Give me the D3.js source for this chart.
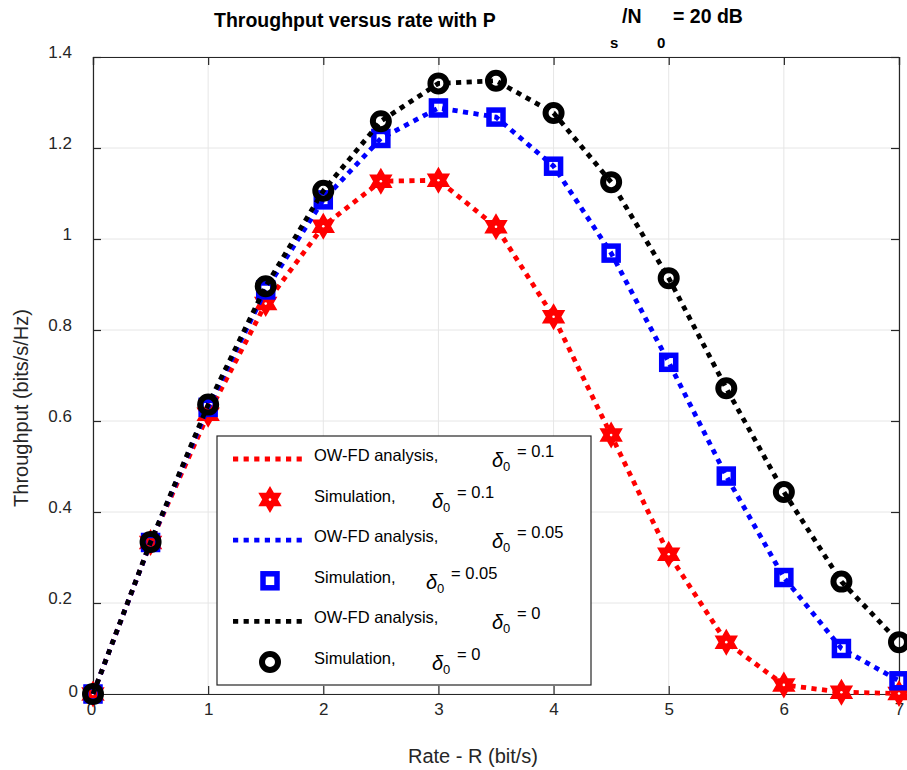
<!DOCTYPE html>
<html><head><meta charset="utf-8">
<script src="https://cdn.jsdelivr.net/npm/d3@7"></script>
<style>body{margin:0;background:#fff}svg{display:block}text{font-family:"Liberation Sans",Arial,sans-serif}</style>
</head><body><svg id="c" width="907" height="770"></svg>
<script>
// ---- data ----
const rate = [0,0.5,1,1.5,2,2.5,3,3.5,4,4.5,5,5.5,6,6.5,7];
const thrDelta01  = [0,0.333,0.615,0.858,1.028,1.127,1.129,1.027,0.829,0.569,0.307,0.114,0.020,0.004,0.001];
const thrDelta005 = [0,0.333,0.630,0.888,1.086,1.221,1.288,1.268,1.160,0.969,0.729,0.479,0.256,0.100,0.029];
const thrDelta0   = [0,0.334,0.636,0.896,1.106,1.259,1.342,1.348,1.277,1.125,0.914,0.672,0.444,0.247,0.114];
const xTicks = [0,1,2,3,4,5,6,7];
const yTicks = [0,0.2,0.4,0.6,0.8,1,1.2,1.4];
const deltaLabels = ["0.1","0.05","0"];
const seriesColors = ["#ff0000","#0000ff","#000000"];
const seriesMarkers = ["hexagram","square","circle"];
const titleMain = "Throughput versus rate with P";
const xLabel = "Rate - R (bit/s)";
const yLabel = "Throughput (bits/s/Hz)";

const series = [thrDelta01, thrDelta005, thrDelta0];

const svg = d3.select("#c");
const L=93, R=899, T=57, B=694;
const x = d3.scaleLinear().domain([0,7]).range([L,R]);
const y = d3.scaleLinear().domain([0,1.4]).range([B,T]);
const axisCol = "#262626";

// grid
const g = svg.append("g");
g.selectAll(".gx").data(xTicks).join("line").attr("x1",d=>x(d)).attr("x2",d=>x(d)).attr("y1",T).attr("y2",B).attr("stroke","#e6e6e6").attr("stroke-width",1);
g.selectAll(".gy").data(yTicks).join("line").attr("y1",d=>y(d)).attr("y2",d=>y(d)).attr("x1",L).attr("x2",R).attr("stroke","#e6e6e6").attr("stroke-width",1);

// axes (inner ticks, box)
const xa = svg.append("g").attr("transform",`translate(0,${B})`).call(d3.axisBottom(x).tickValues(xTicks).tickSize(-8).tickPadding(18).tickFormat(d3.format("d")));
const xt = svg.append("g").attr("transform",`translate(0,${T})`).call(d3.axisTop(x).tickValues(xTicks).tickSize(-8).tickFormat(""));
const ya = svg.append("g").attr("transform",`translate(${L},0)`).call(d3.axisLeft(y).tickValues(yTicks).tickSize(-8).tickPadding(21).tickFormat(d=>d===0?"0":(d===1?"1":d3.format(".1f")(d))));
const yr = svg.append("g").attr("transform",`translate(${R},0)`).call(d3.axisRight(y).tickValues(yTicks).tickSize(-8).tickFormat(""));
[xa,xt,ya,yr].forEach(a=>{
  a.select(".domain").attr("stroke",axisCol).attr("stroke-width",1.2);
  a.selectAll(".tick line").attr("stroke",axisCol).attr("stroke-width",1.2);
  a.selectAll("text").attr("font-size",17).attr("fill","#262626").attr("font-family","Liberation Sans, Arial, sans-serif");
});
xa.selectAll(".tick text").attr("dy","0.71em").attr("y",9).attr("x",d=>d===0?-2:0);
ya.selectAll(".tick text").attr("dy","0.32em").attr("y",-5).attr("x",d=>d===0?-15:-21);
ya.selectAll(".tick text").filter(d=>d===0).attr("y",-3);

// series
const line = d3.line().x((d,i)=>x(rate[i])).y(d=>y(d));
function hexagram(r){
  const pts=[];
  for(let k=0;k<12;k++){
    const a=-Math.PI/2 + k*Math.PI/6;
    const rr = k%2===0 ? r : r/Math.sqrt(3);
    pts.push([rr*Math.cos(a), rr*Math.sin(a)]);
  }
  return "M"+pts.map(p=>p.join(",")).join("L")+"Z";
}
function drawMarker(sel, type, color){
  if(type==="hexagram"){
    sel.append("path").attr("d",hexagram(13.5)).attr("fill",color);
    sel.append("circle").attr("r",1.3).attr("fill","#fff");
  } else if(type==="square"){
    sel.append("rect").attr("x",-7).attr("y",-7).attr("width",14).attr("height",14).attr("fill","none").attr("stroke",color).attr("stroke-width",5.5);
  } else {
    sel.append("circle").attr("r",8).attr("fill","none").attr("stroke",color).attr("stroke-width",6);
  }
}
const dash = "5.2,5.4";
series.forEach((vals,si)=>{
  svg.append("path").datum(vals).attr("d",line).attr("fill","none").attr("stroke",seriesColors[si]).attr("stroke-width",4.8).attr("stroke-dasharray",dash);
  svg.append("g").selectAll("g").data(vals).join("g")
    .attr("transform",(d,i)=>`translate(${x(rate[i])},${y(d)})`)
    .each(function(){ drawMarker(d3.select(this), seriesMarkers[si], seriesColors[si]); });
});

// legend
const lgX=217, lgY=436, lgW=374, lgH=249;
const leg = svg.append("g");
leg.append("rect").attr("x",lgX).attr("y",lgY).attr("width",lgW).attr("height",lgH).attr("fill","#fff").attr("stroke",axisCol).attr("stroke-width",1.2);
const rowH = 40.6;
const entries = [];
deltaLabels.forEach((dl,si)=>{
  entries.push({kind:"line", si, text:"OW-FD analysis,", dx:492, dl});
  entries.push({kind:"marker", si, text:"Simulation,", dx: dl==="0.05"?426:432, dl});
});
entries.forEach((e,k)=>{
  const cy = lgY + 23 + k*rowH;
  const col = seriesColors[e.si];
  if(e.kind==="line"){
    leg.append("line").attr("x1",233).attr("x2",306).attr("y1",cy).attr("y2",cy).attr("stroke",col).attr("stroke-width",4.8).attr("stroke-dasharray",dash);
  } else {
    drawMarker(leg.append("g").attr("transform",`translate(270,${cy})`), seriesMarkers[e.si], col);
  }
  leg.append("text").attr("x",314).attr("y",cy+2).attr("font-size",16.5).attr("fill","#000").text(e.text);
  leg.append("text").attr("x",e.dx).attr("y",cy+8).attr("font-size",20).attr("font-style","italic").attr("font-family","Liberation Serif, Times New Roman, serif").attr("fill","#000").text("δ");
  leg.append("text").attr("x",e.dx+11).attr("y",cy+12).attr("font-size",13).attr("fill","#000").text("0");
  leg.append("text").attr("x",e.dx+25).attr("y",cy-2).attr("font-size",16.5).attr("fill","#000").text("= "+e.dl);
});

// titles
svg.append("text").attr("x",214).attr("y",27).attr("font-size",19.5).attr("font-weight","bold").text(titleMain);
svg.append("text").attr("x",610).attr("y",48).attr("font-size",15).attr("font-weight","bold").text("s");
svg.append("text").attr("x",622).attr("y",23).attr("font-size",19.5).attr("font-weight","bold").text("/N");
svg.append("text").attr("x",657).attr("y",48).attr("font-size",15).attr("font-weight","bold").text("0");
svg.append("text").attr("x",673).attr("y",23).attr("font-size",19.5).attr("font-weight","bold").text("= 20 dB");

svg.append("text").attr("x",473).attr("y",763).attr("text-anchor","middle").attr("font-size",20).attr("fill","#262626").text(xLabel);
svg.append("text").attr("transform","translate(28,408) rotate(-90)").attr("text-anchor","middle").attr("font-size",20).attr("fill","#262626").text(yLabel);
</script></body></html>
